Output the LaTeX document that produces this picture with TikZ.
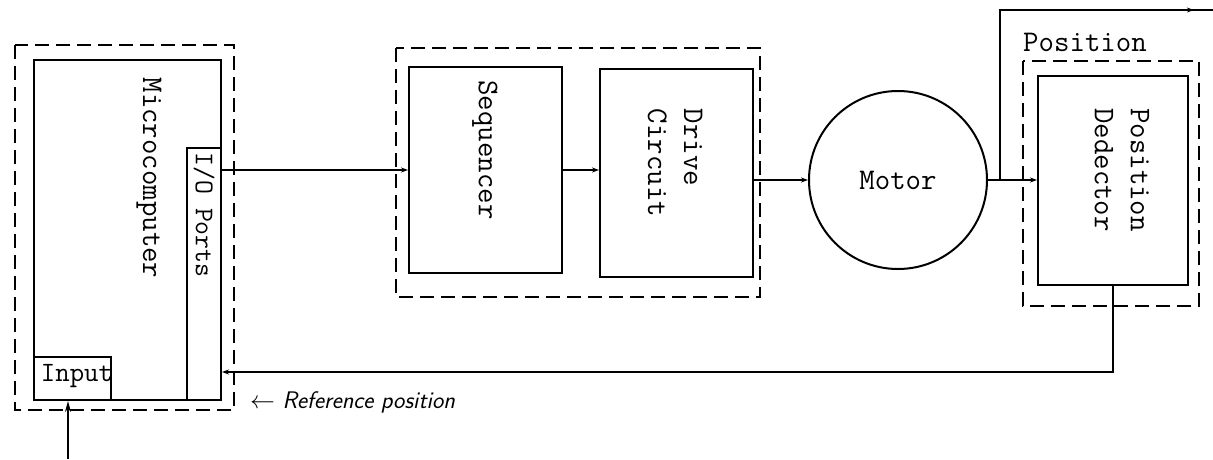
\documentclass[tikz,border=0pt]{standalone}
\usepackage{fontspec}
\usetikzlibrary{arrows.meta,decorations.markings}
\tikzset{
  x=1pt, y=-1pt,
  blk/.style={draw, line width=2pt, rectangle, inner sep=0pt},
  grp/.style={draw, line width=1.2pt, dash pattern=on 14pt off 7pt},
  wire/.style={line width=1.3pt},
  tip/.style={-{Stealth[length=7pt,width=5pt]}},
  lbl/.style={font=\ttfamily\fontsize{30}{36}\selectfont, inner sep=0pt},
  vlbl/.style={lbl, rotate=-90, align=left},
  note/.style={font=\sffamily\itshape\fontsize{24}{28}\selectfont, inner sep=0pt},
}
\begin{document}
\begin{tikzpicture}
\useasboundingbox (0,0) rectangle (1213,459);

% group frames
\draw[grp] (15,45) rectangle (234,410);
\draw[grp] (396,48) rectangle (760,297);
\draw[grp] (1023,61) rectangle (1199,306);

% microcomputer and its ports
\node[blk, minimum width=187, minimum height=340] (mc) at (127.5,230) {};
\node[blk, minimum width=34, minimum height=252] (io) at (204,274) {};
\node[blk, minimum width=77, minimum height=43] (inp) at (72.5,378.5) {};

% drive chain
\node[blk, minimum width=153, minimum height=206] (seq) at (485.5,170) {};
\node[blk, minimum width=153, minimum height=208] (drv) at (676.5,173) {};
\node[draw, line width=2pt, circle, minimum size=178, inner sep=0pt, lbl] (mot) at (898,180) {Motor};
\node[blk, minimum width=150, minimum height=209] (pd) at (1113,180.5) {};

% labels
\node[vlbl] (lmc) at (149,178) {Microcomputer};
\node[vlbl, font=\ttfamily\fontsize{27}{32}\selectfont] (lio) at (204,215) {I/O Ports};
\node[vlbl] (lseq) at (485,150) {Sequencer};
\node[vlbl] (ldrv) at (675,163) {Drive\\Circuit};
\node[vlbl] (lpd) at (1122,170) {Position\\Dedector};
\node[lbl] (lpos) at (1085,42) {Position};
\node[lbl, font=\ttfamily\fontsize{28}{34}\selectfont, anchor=base] (linp) at (77,381) {Input};
\node[note, anchor=base west] (lref) at (250,408) {$\leftarrow$ Reference position};

% connectors
\coordinate (j) at ([xshift=12pt]mot.east);
\coordinate (topend) at (1213,10);
\coordinate (inlet) at (68,459);

\draw[wire, tip] (io.east |- seq.west) -- (seq.west);
\draw[wire, tip] (seq.east) -- (seq.east -| drv.west);
\draw[wire, tip] (drv.east |- mot.west) -- (mot.west);
\draw[wire, tip] (mot.east) -- (pd.west |- mot.east);
\draw[wire, postaction={decorate},
  decoration={markings, mark=at position 0.95 with {\arrow{Stealth[length=7pt,width=5pt]}}}]
  (j) |- (topend);
\draw[wire, tip] (pd.south) |- ([yshift=29pt]io.south east);
\draw[wire, -{Stealth[length=11pt,width=6pt]}] (inlet) -- (inlet |- inp.south);
\end{tikzpicture}
\end{document}
